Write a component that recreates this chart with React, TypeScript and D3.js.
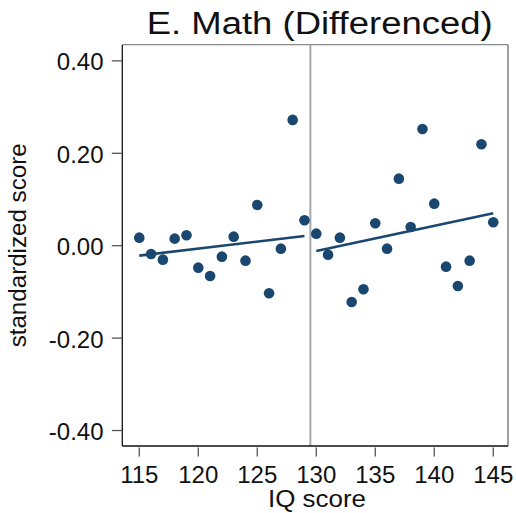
import React from "react";
import * as d3 from "d3";

const iqScores = [115,116,117,118,119,120,121,122,123,124,125,126,127,128,129,130,131,132,133,134,135,136,137,138,139,140,141,142,143,144,145];
const mathDiff = [0.0174,-0.0179,-0.0302,0.0153,0.0226,-0.0475,-0.0655,-0.0237,0.0196,-0.0324,0.0882,-0.1029,-0.0064,0.2722,0.0551,0.0261,-0.0194,0.0174,-0.1218,-0.0943,0.0486,-0.0064,0.1451,0.0406,0.2527,0.0910,-0.0453,-0.0871,-0.0324,0.2196,0.0508];
const fitLeftX = [115, 129];
const fitLeftY = [-0.0215, 0.0211];
const fitRightX = [130, 145];
const fitRightY = [-0.0114, 0.0702];
const cutoff = 129.5;
const yTicks = [-0.4, -0.2, 0, 0.2, 0.4];
const xTicks = [115, 120, 125, 130, 135, 140, 145];
const title = "E. Math (Differenced)";
const xTitle = "IQ score";
const yTitle = "standardized score";

const W = 516, H = 513;
const L = 122.3, R = 508, T = 44.7, B = 446;
const navy = "#1a476f";
const font = "'Liberation Sans', Arial, sans-serif";

export default function App() {
  const x = d3.scaleLinear().domain([113.56, 146.25]).range([L, R]);
  const y = d3.scaleLinear().domain([-0.4335, 0.435]).range([B, T]);
  const line = d3.line<[number, number]>().x(d => x(d[0])).y(d => y(d[1]));
  const left: [number, number][] = fitLeftX.map((v, i) => [v, fitLeftY[i]]);
  const right: [number, number][] = fitRightX.map((v, i) => [v, fitRightY[i]]);
  return (
    <svg width={W} height={H} style={{ position: "absolute", left: 0, top: 0, background: "#fff" }} fontFamily={font}>
      <rect x={0} y={0} width={W} height={H} fill="#fff" />
      {/* frame top/right */}
      <line x1={L} x2={R} y1={T} y2={T} stroke="#8c8c8c" strokeWidth={1.3} />
      <line x1={R} x2={R} y1={T} y2={B} stroke="#6e6e6e" strokeWidth={1.3} />
      {/* cutoff */}
      <line x1={x(cutoff)} x2={x(cutoff)} y1={T} y2={B} stroke="#a8a8a8" strokeWidth={2} />
      {/* axes */}
      <line x1={L} x2={L} y1={T} y2={B} stroke="#111" strokeWidth={1.3} />
      <line x1={L} x2={R} y1={B} y2={B} stroke="#111" strokeWidth={1.3} />
      {yTicks.map(t => (
        <g key={"y" + t}>
          <line x1={L - 10.5} x2={L} y1={y(t)} y2={y(t)} stroke="#555" strokeWidth={1.3} />
          <text x={103.5} y={y(t) + 9.5} textAnchor="end" fontSize={24} fill="#111">{t.toFixed(2)}</text>
        </g>
      ))}
      {xTicks.map(t => (
        <g key={"x" + t}>
          <line x1={x(t)} x2={x(t)} y1={B + 1.5} y2={B + 10.5} stroke="#555" strokeWidth={1.3} />
          <text x={x(t)} y={483.3} textAnchor="middle" fontSize={24} fill="#111">{t}</text>
        </g>
      ))}
      <path d={line(left) || ""} fill="none" stroke={navy} strokeWidth={2.6} />
      <path d={line(right) || ""} fill="none" stroke={navy} strokeWidth={2.6} />
      {iqScores.map((v, i) => (
        <circle key={v} cx={x(v)} cy={y(mathDiff[i])} r={5.3} fill={navy} />
      ))}
      <text x={319.7} y={34} textAnchor="middle" fontSize={31} textLength={346} lengthAdjust="spacingAndGlyphs" fill="#111">{title}</text>
      <text x={317} y={506.5} textAnchor="middle" fontSize={23} textLength={98} lengthAdjust="spacingAndGlyphs" fill="#111">{xTitle}</text>
      <text transform={`translate(26,${(T + B) / 2}) rotate(-90)`} textAnchor="middle" fontSize={23} textLength={204} lengthAdjust="spacingAndGlyphs" fill="#111">{yTitle}</text>
    </svg>
  );
}
